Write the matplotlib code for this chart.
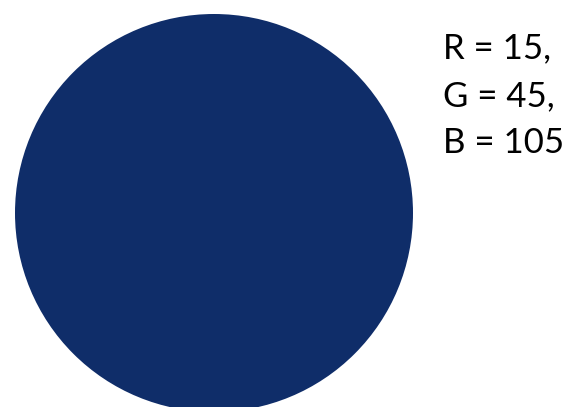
import matplotlib
matplotlib.use("Agg")
import matplotlib.pyplot as plt
from matplotlib.patches import Circle

channels = ["R", "G", "B"]
values = [15, 45, 105]

W, H = 573, 407
fig = plt.figure(figsize=(W / 100, H / 100), dpi=100)
ax = fig.add_axes([0, 0, 1, 1])
ax.set_xlim(0, W)
ax.set_ylim(H, 0)
ax.axis("off")

color = tuple(v / 255 for v in values)
ax.add_patch(Circle((214, 213), 199, facecolor=color, edgecolor="none"))

baselines = [58, 106, 153]
for i, (c, v) in enumerate(zip(channels, values)):
    txt = f"{c} = {v}" + ("," if i < len(values) - 1 else "")
    ax.text(443, baselines[i], txt, fontsize=25, family=["Lato", "DejaVu Sans"],
            ha="left", va="baseline", color="black")

fig.savefig("out.png", dpi=100)
